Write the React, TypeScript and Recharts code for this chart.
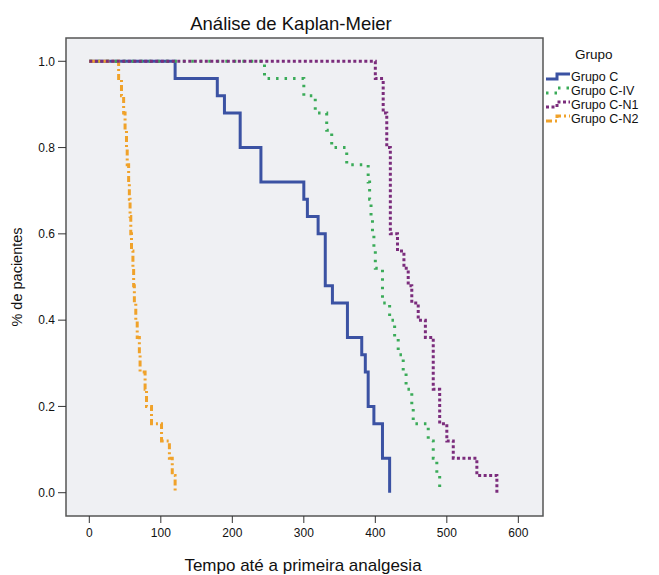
import { LineChart, Line, XAxis, YAxis, ReferenceArea } from "recharts"

// tempos (min) e sobrevida após cada evento
const C_TIMES = [120, 179, 189, 211, 240, 300, 305, 320, 330, 340, 361, 381, 386, 390, 398, 410, 420]
const C_SURV = [0.96, 0.92, 0.88, 0.8, 0.72, 0.68, 0.64, 0.6, 0.48, 0.44, 0.36, 0.32, 0.28, 0.2, 0.16, 0.08, 0]

const CIV_TIMES = [245, 300, 316, 332, 339, 360, 390, 392, 394, 396, 398, 400, 410, 420, 427, 432, 439, 443, 451, 453, 474, 481, 486, 490]
const CIV_SURV = [0.96, 0.92, 0.88, 0.84, 0.8, 0.76, 0.72, 0.68, 0.64, 0.6, 0.56, 0.52, 0.44, 0.4, 0.36, 0.32, 0.28, 0.24, 0.2, 0.16, 0.12, 0.08, 0.04, 0]

const CN1_TIMES = [400, 411, 416, 421, 431, 440, 446, 451, 460, 470, 481, 490, 500, 509, 542, 570]
const CN1_SURV = [0.96, 0.88, 0.8, 0.6, 0.56, 0.52, 0.48, 0.44, 0.4, 0.36, 0.24, 0.16, 0.12, 0.08, 0.04, 0]

const CN2_TIMES = [41, 45, 48, 50, 52, 53, 55, 56, 57, 58, 59, 61, 62, 63, 65, 67, 70, 71, 78, 80, 87, 101, 112, 116, 120]
const CN2_SURV = [0.96, 0.92, 0.88, 0.84, 0.8, 0.76, 0.72, 0.68, 0.64, 0.6, 0.56, 0.52, 0.48, 0.44, 0.4, 0.36, 0.32, 0.28, 0.24, 0.2, 0.16, 0.12, 0.08, 0.04, 0]

const X_TICKS = [0, 100, 200, 300, 400, 500, 600]
const Y_TICKS = [0, 0.2, 0.4, 0.6, 0.8, 1.0]
const GROUPS = ["Grupo C", "Grupo C-IV", "Grupo C-N1", "Grupo C-N2"]

const steps = (times: number[], surv: number[]) => [{ t: 0, s: 1 }, ...times.map((t, i) => ({ t, s: surv[i] }))]

const X_DOMAIN: [number, number] = [-32.6, 634.5]
const Y_DOMAIN: [number, number] = [-0.054, 1.054]
const font = "'Liberation Sans', Arial, sans-serif"

const styles = [
    { color: "#3b52a3", dash: undefined },
    { color: "#3aab58", dash: "2.5 6" },
    { color: "#7b2c7c", dash: "3 2.5" },
    { color: "#f0a22a", dash: "6 3 2 3" },
]

export default function App() {
    const series = [steps(C_TIMES, C_SURV), steps(CIV_TIMES, CIV_SURV), steps(CN1_TIMES, CN1_SURV), steps(CN2_TIMES, CN2_SURV)]
    const order = [0, 1, 3, 2]
    return (
        <div style={{ position: "absolute", left: 0, top: 0, width: 659, height: 575, background: "#fff" }}>
            <LineChart width={659} height={575} margin={{ top: 38, right: 116, bottom: 0, left: 0 }}>
                <ReferenceArea x1={X_DOMAIN[0]} x2={X_DOMAIN[1]} y1={Y_DOMAIN[0]} y2={Y_DOMAIN[1]} fill="#eff0f3" fillOpacity={1} stroke="#555" strokeWidth={1.5} ifOverflow="visible" />
                <XAxis type="number" dataKey="t" domain={X_DOMAIN} ticks={X_TICKS} allowDataOverflow height={59} axisLine={false}
                    tickSize={7} tickMargin={5} tickLine={{ stroke: "#333" }} tick={{ fill: "#111", fontSize: 12, fontFamily: font }} />
                <YAxis type="number" domain={Y_DOMAIN} ticks={Y_TICKS} allowDataOverflow width={66} axisLine={false}
                    tickSize={8} tickMargin={3} tickLine={{ stroke: "#333" }} tickFormatter={(v) => v.toFixed(1)}
                    tick={{ fill: "#111", fontSize: 12, fontFamily: font }} />
                {order.map((i) => (
                    <Line key={GROUPS[i]} data={series[i]} dataKey="s" name={GROUPS[i]} type="stepAfter" stroke={styles[i].color}
                        strokeWidth={3} strokeDasharray={styles[i].dash} dot={false} activeDot={false} isAnimationActive={false} />
                ))}
            </LineChart>
            <svg width={659} height={575} style={{ position: "absolute", left: 0, top: 0, pointerEvents: "none" }} fontFamily={font}>
                <text x={291} y={30} textAnchor="middle" fontSize={18.5} fill="#111">Análise de Kaplan-Meier</text>
                <text x={303} y={571} textAnchor="middle" fontSize={17} fill="#111">Tempo até a primeira analgesia</text>
                <text transform="translate(22,277) rotate(-90)" textAnchor="middle" fontSize={14.5} fill="#111">% de pacientes</text>
                <text x={575} y={59} fontSize={13.5} fill="#111">Grupo</text>
                {GROUPS.map((g, i) => {
                    const cy = 76 + i * 14
                    return (
                        <g key={g}>
                            <path d={`M546,${cy + 3} H557 V${cy - 2} H570`} fill="none" stroke={styles[i].color} strokeWidth={3} strokeDasharray={styles[i].dash} />
                            <text x={571} y={cy + 4.5} fontSize={12.5} fill="#111">{g}</text>
                        </g>
                    )
                })}
            </svg>
        </div>
    )
}
